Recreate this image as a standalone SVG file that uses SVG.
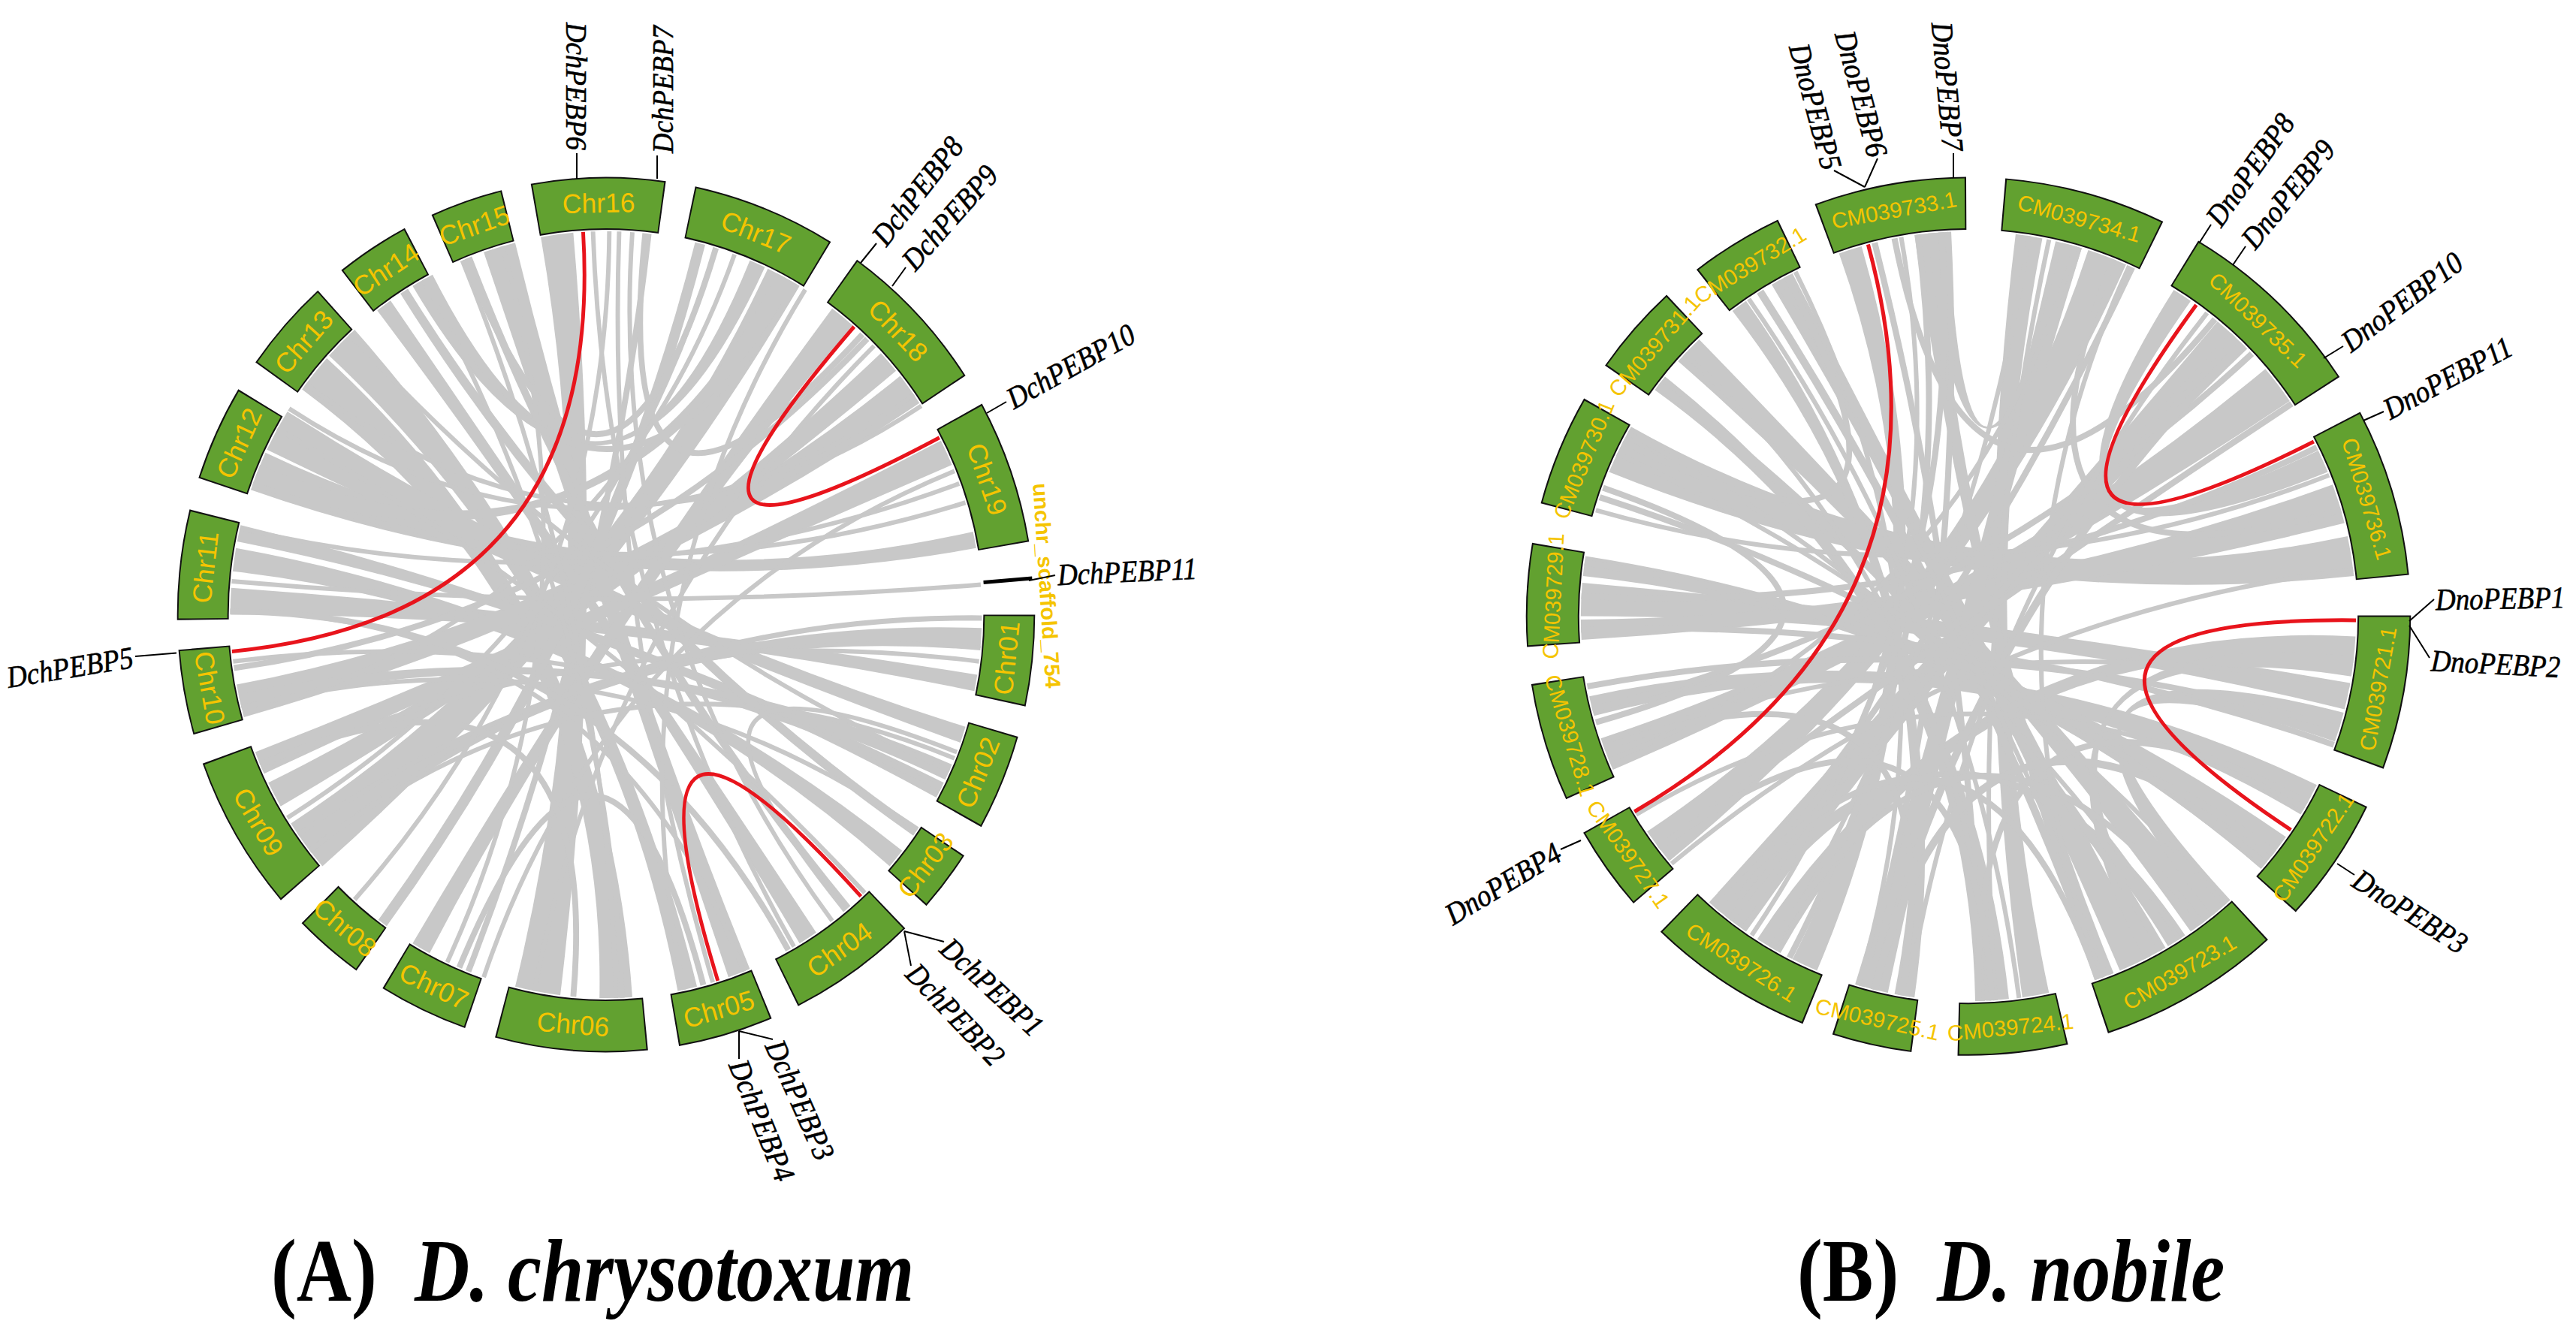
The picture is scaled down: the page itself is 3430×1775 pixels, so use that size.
<svg xmlns="http://www.w3.org/2000/svg" width="3430" height="1775" viewBox="0 0 3430 1775">
<style>
.ob{fill:none;stroke:#111;stroke-width:70}
.sg{fill:none;stroke:#62a130;stroke-width:66}
.rb{fill:#c8c8c8}
.ln{fill:none;stroke:#c8c8c8}
.w6{stroke-width:6}.w7{stroke-width:7}.w8{stroke-width:8}.w10{stroke-width:10}.w12{stroke-width:12}.w14{stroke-width:14}
.rd{fill:none;stroke:#e8141c;stroke-width:5}
.lb{font-family:"Liberation Sans",Arial,sans-serif;fill:#f5c400;text-anchor:middle;dominant-baseline:central}
.la{font-size:36px}.lr{font-size:29px}
.gl{font-family:"Liberation Serif","Times New Roman",serif;font-style:italic;font-size:41px;fill:#000;stroke:#000;stroke-width:0.6;dominant-baseline:central}
.gk{fill:none;stroke:#000;stroke-width:2}
.tt{font-family:"Liberation Serif","Times New Roman",serif;font-weight:bold;font-size:118px;fill:#000}
</style>
<rect width="3430" height="1775" fill="#fff"/>

<g id="circos-a" transform="translate(807,818.5) scale(0.985,1.005)">
<g id="links-a">
<path class="rb" d="M-88.2,-500.3A508,508 0 0 1 -44.3,-506.1Q0,0 -61.9,504.2A508,508 0 0 1 -122.9,492.9Q0,0 -88.2,-500.3Z"/>
<path class="rb" d="M35.5,506.8A508,508 0 0 1 -8.9,507.9Q0,0 -411,-298.6A508,508 0 0 1 -377.5,-339.9Q0,0 35.5,506.8Z"/>
<path class="rb" d="M122.9,492.9A508,508 0 0 1 96.9,498.7Q0,0 -374.5,-343.2A508,508 0 0 1 -339.9,-377.5Q0,0 122.9,492.9Z"/>
<path class="rb" d="M496,-110A508,508 0 0 1 500.3,-88.2Q0,0 -480.3,-165.4A508,508 0 0 1 -460.4,-214.7Q0,0 496,-110Z"/>
<path class="rb" d="M485.8,148.5A508,508 0 0 1 478.9,169.6Q0,0 -458.5,-218.7A508,508 0 0 1 -430.8,-269.2Q0,0 485.8,148.5Z"/>
<path class="rb" d="M501.8,79.5A508,508 0 0 1 497.8,101.3Q0,0 -508,0A508,508 0 0 1 -506.8,-35.5Q0,0 501.8,79.5Z"/>
<path class="rb" d="M400.3,312.8A508,508 0 0 1 383.4,333.3Q0,0 -504.7,-57.5A508,508 0 0 1 -500.3,-88.2Q0,0 400.3,312.8Z"/>
<path class="rb" d="M397.6,-316.3A508,508 0 0 1 423.6,-280.4Q0,0 -489.5,135.8A508,508 0 0 1 -499.5,92.6Q0,0 397.6,-316.3Z"/>
<path class="rb" d="M218.7,-458.5A508,508 0 0 1 261.6,-435.5Q0,0 -383.4,333.3A508,508 0 0 1 -426.1,276.7Q0,0 218.7,-458.5Z"/>
<path class="rb" d="M371.5,-346.5A508,508 0 0 1 392,-323.1Q0,0 -439.9,254A508,508 0 0 1 -456.6,222.7Q0,0 371.5,-346.5Z"/>
<path class="rb" d="M284.1,421.1A508,508 0 0 1 261.6,435.5Q0,0 -309.3,-403A508,508 0 0 1 -291.4,-416.2Q0,0 284.1,421.1Z"/>
<path class="rb" d="M194.4,469.3A508,508 0 0 1 165.4,480.3Q0,0 -165.4,-480.3A508,508 0 0 1 -122.9,-492.9Q0,0 194.4,469.3Z"/>
<path class="rb" d="M305.7,-405.7A508,508 0 0 1 333.3,-383.4Q0,0 -238.5,448.5A508,508 0 0 1 -261.6,435.5Q0,0 305.7,-405.7Z"/>
<path class="rb" d="M456.6,222.7A508,508 0 0 1 446.4,242.4Q0,0 -498.7,-96.9A508,508 0 0 1 -494,-118.6Q0,0 456.6,222.7Z"/>
<path class="rb" d="M452.6,-230.6A508,508 0 0 1 467.6,-198.5Q0,0 -462.3,210.7A508,508 0 0 1 -474.3,182.1Q0,0 452.6,-230.6Z"/>
<path class="rb" d="M194.4,-469.3A508,508 0 0 1 214.7,-460.4Q0,0 -261.6,-435.5A508,508 0 0 1 -234.6,-450.6Q0,0 194.4,-469.3Z"/>
<path class="rb" d="M507.7,17.7A508,508 0 0 1 506.1,44.3Q0,0 -400.3,312.8A508,508 0 0 1 -416.2,291.4Q0,0 507.7,17.7Z"/>
<path class="rb" d="M230.6,-452.6A508,508 0 0 1 254,-439.9Q0,0 -477.4,-173.7A508,508 0 0 1 -467.6,-198.5Q0,0 230.6,-452.6Z"/>
<path class="rb" d="M467.6,198.5A508,508 0 0 1 458.5,218.7Q0,0 -492.9,122.9A508,508 0 0 1 -496.9,105.6Q0,0 467.6,198.5Z"/>
<path class="ln w6" d="M506.5,-39.9Q0,0 -506.1,-44.3"/>
<path class="ln w7" d="M508,4.4Q0,0 -400.3,312.8"/>
<path class="ln w8" d="M57.5,-504.7Q0,0 -186.2,472.7"/>
<path class="ln w6" d="M-17.7,-507.7Q0,0 254,439.9"/>
<path class="ln w10" d="M-186.2,-472.7Q0,0 326.5,389.1"/>
<path class="ln w12" d="M-273,-428.5Q0,0 418.7,287.8"/>
<path class="ln w14" d="M127.2,-491.8Q0,0 -302.2,408.4"/>
<path class="ln w8" d="M352.9,-365.4Q0,0 -503.1,70.7"/>
<path class="ln w6" d="M148.5,-485.8Q0,0 -430.8,269.2"/>
<path class="ln w6" d="M173.7,-477.4Q0,0 -490.7,131.5"/>
<path class="ln w6" d="M17.7,-507.7Q0,0 144.3,487.1"/>
<path class="ln w6" d="M35.5,-506.8Q0,0 305.7,405.7"/>
<path class="ln w6" d="M-428.5,-273Q0,0 416.2,-291.4"/>
<path class="ln w6" d="M477.4,-173.7Q0,0 -495,-114.3"/>
<path class="ln w6" d="M485.8,-148.5Q0,0 -477.4,-173.7"/>
<path class="ln w6" d="M426.1,-276.7Q0,0 -405.7,-305.7"/>
<path class="ln w6" d="M471,190.3Q0,0 -400.3,312.8"/>
<path class="ln w6" d="M464.1,206.6Q0,0 -346.5,-371.5"/>
<path class="ln w6" d="M506.1,44.3Q0,0 -416.2,291.4"/>
<path class="ln w6" d="M349.7,368.5Q0,0 -444.3,-246.3"/>
<path class="ln w6" d="M186.2,472.7Q0,0 -508,-4.4"/>
<path class="ln w6" d="M22.2,507.5Q0,0 -246.3,-444.3"/>
<path class="ln w6" d="M-214.7,460.4Q0,0 -140,-488.3"/>
<path class="ln w6" d="M-339.9,377.5Q0,0 4.4,-508"/>
<path class="ln w6" d="M-504.2,61.9Q0,0 452.6,230.6"/>
<path class="ln w6" d="M421.1,284.1Q0,0 -492.9,122.9"/>
<path class="ln w8" d="M246.3,444.3Q0,0 -508,-4.4"/>
<path class="ln w6" d="M105.6,496.9Q0,0 269.2,-430.8"/>
<path class="ln w6" d="M-96.9,498.7Q0,0 362.3,-356.1"/>
<path class="ln w6" d="M-165.4,480.3Q0,0 471,-190.3"/>
<path class="ln w6" d="M-465.9,202.6Q0,0 504.2,61.9"/>
<path class="ln w6" d="M13.3,507.8Q0,0 -194.4,-469.3"/>
<path class="ln w8" d="M53.1,-505.2Q0,0 346.5,-371.5"/>
<path class="ln w8" d="M-190.3,-471Q0,0 148.5,-485.8"/>
<path class="ln w8" d="M-198.5,467.6Q0,0 131.5,490.7"/>
<path class="ln w8" d="M-467.6,198.5Q0,0 -44.3,506.1"/>
<path class="ln w6" d="M323.1,392Q0,0 474.3,182.1"/>
<path class="ln w8" d="M-254,-439.9Q0,0 257.8,-437.7"/>
<path class="rd" d="M-31,-507.1Q0,0 -505.7,48.7"/>
<path class="rd" d="M335.3,-381.6Q0,0 450.6,-234.6"/>
<path class="rd" d="M344.5,373.3Q0,0 151.1,485"/>
</g>
<g id="a-chr16" transform="rotate(350.1)"><circle class="ob" r="545" transform="rotate(-90.21)" stroke-dasharray="172.4 4000"/><circle class="sg" r="545" transform="rotate(-90)" stroke-dasharray="168.4 4000"/><text class="lb la" transform="rotate(8.85) translate(0,-545)">Chr16</text></g>
<g id="a-chr17" transform="rotate(12.2)"><circle class="ob" r="545" transform="rotate(-90.21)" stroke-dasharray="186.6 4000"/><circle class="sg" r="545" transform="rotate(-90)" stroke-dasharray="182.6 4000"/><text class="lb la" transform="rotate(9.6) translate(0,-545)">Chr17</text></g>
<g id="a-chr18" transform="rotate(36)"><circle class="ob" r="545" transform="rotate(-90.21)" stroke-dasharray="200.9 4000"/><circle class="sg" r="545" transform="rotate(-90)" stroke-dasharray="196.9 4000"/><text class="lb la" transform="rotate(10.35) translate(0,-545)">Chr18</text></g>
<g id="a-chr19" transform="rotate(61.4)"><circle class="ob" r="545" transform="rotate(-90.21)" stroke-dasharray="182.8 4000"/><circle class="sg" r="545" transform="rotate(-90)" stroke-dasharray="178.8 4000"/><text class="lb la" transform="rotate(9.4) translate(0,-545)">Chr19</text></g>
<g id="a-unchr" transform="rotate(85.2)"><line x1="0" y1="-512" x2="0" y2="-578" stroke="#000" stroke-width="5"/><text class="lb" font-size="29" font-weight="bold" transform="rotate(1.1) translate(0,-597)">unchr_scaffold_754</text></g>
<g id="a-chr01" transform="rotate(90.2)"><circle class="ob" r="545" transform="rotate(-90.21)" stroke-dasharray="115.3 4000"/><circle class="sg" r="545" transform="rotate(-90)" stroke-dasharray="111.3 4000"/><text class="lb la" transform="rotate(5.85) translate(0,-545) rotate(180)">Chr01</text></g>
<g id="a-chr02" transform="rotate(106.4)"><circle class="ob" r="545" transform="rotate(-90.21)" stroke-dasharray="121.9 4000"/><circle class="sg" r="545" transform="rotate(-90)" stroke-dasharray="117.9 4000"/><text class="lb la" transform="rotate(6.2) translate(0,-545) rotate(180)">Chr02</text></g>
<g id="a-chr03" transform="rotate(123.6)"><circle class="ob" r="545" transform="rotate(-90.21)" stroke-dasharray="79.1 4000"/><circle class="sg" r="545" transform="rotate(-90)" stroke-dasharray="75.1 4000"/><text class="lb la" transform="rotate(3.95) translate(0,-545) rotate(180)">Chr03</text></g>
<g id="a-chr04" transform="rotate(136)"><circle class="ob" r="545" transform="rotate(-90.21)" stroke-dasharray="167.6 4000"/><circle class="sg" r="545" transform="rotate(-90)" stroke-dasharray="163.6 4000"/><text class="lb la" transform="rotate(8.6) translate(0,-545) rotate(180)">Chr04</text></g>
<g id="a-chr05" transform="rotate(157.5)"><circle class="ob" r="545" transform="rotate(-90.21)" stroke-dasharray="122.9 4000"/><circle class="sg" r="545" transform="rotate(-90)" stroke-dasharray="118.9 4000"/><text class="lb la" transform="rotate(6.25) translate(0,-545) rotate(180)">Chr05</text></g>
<g id="a-chr06" transform="rotate(174.6)"><circle class="ob" r="545" transform="rotate(-90.21)" stroke-dasharray="196.1 4000"/><circle class="sg" r="545" transform="rotate(-90)" stroke-dasharray="192.1 4000"/><text class="lb la" transform="rotate(10.1) translate(0,-545) rotate(180)">Chr06</text></g>
<g id="a-chr07" transform="rotate(199.4)"><circle class="ob" r="545" transform="rotate(-90.21)" stroke-dasharray="116.2 4000"/><circle class="sg" r="545" transform="rotate(-90)" stroke-dasharray="112.2 4000"/><text class="lb la" transform="rotate(5.9) translate(0,-545) rotate(180)">Chr07</text></g>
<g id="a-chr08" transform="rotate(215.8)"><circle class="ob" r="545" transform="rotate(-90.21)" stroke-dasharray="91.5 4000"/><circle class="sg" r="545" transform="rotate(-90)" stroke-dasharray="87.5 4000"/><text class="lb la" transform="rotate(4.6) translate(0,-545) rotate(180)">Chr08</text></g>
<g id="a-chr09" transform="rotate(229.5)"><circle class="ob" r="545" transform="rotate(-90.21)" stroke-dasharray="198 4000"/><circle class="sg" r="545" transform="rotate(-90)" stroke-dasharray="194 4000"/><text class="lb la" transform="rotate(10.2) translate(0,-545) rotate(180)">Chr09</text></g>
<g id="a-chr10" transform="rotate(254.3)"><circle class="ob" r="545" transform="rotate(-90.21)" stroke-dasharray="107.7 4000"/><circle class="sg" r="545" transform="rotate(-90)" stroke-dasharray="103.7 4000"/><text class="lb la" transform="rotate(5.45) translate(0,-545) rotate(180)">Chr10</text></g>
<g id="a-chr11" transform="rotate(269.5)"><circle class="ob" r="545" transform="rotate(-90.21)" stroke-dasharray="139.1 4000"/><circle class="sg" r="545" transform="rotate(-90)" stroke-dasharray="135.1 4000"/><text class="lb la" transform="rotate(7.1) translate(0,-545)">Chr11</text></g>
<g id="a-chr12" transform="rotate(288.4)"><circle class="ob" r="545" transform="rotate(-90.21)" stroke-dasharray="121.9 4000"/><circle class="sg" r="545" transform="rotate(-90)" stroke-dasharray="117.9 4000"/><text class="lb la" transform="rotate(6.2) translate(0,-545)">Chr12</text></g>
<g id="a-chr13" transform="rotate(305.4)"><circle class="ob" r="545" transform="rotate(-90.21)" stroke-dasharray="120 4000"/><circle class="sg" r="545" transform="rotate(-90)" stroke-dasharray="116 4000"/><text class="lb la" transform="rotate(6.1) translate(0,-545)">Chr13</text></g>
<g id="a-chr14" transform="rotate(322.1)"><circle class="ob" r="545" transform="rotate(-90.21)" stroke-dasharray="96.3 4000"/><circle class="sg" r="545" transform="rotate(-90)" stroke-dasharray="92.3 4000"/><text class="lb la" transform="rotate(4.85) translate(0,-545)">Chr14</text></g>
<g id="a-chr15" transform="rotate(336.2)"><circle class="ob" r="545" transform="rotate(-90.21)" stroke-dasharray="94.4 4000"/><circle class="sg" r="545" transform="rotate(-90)" stroke-dasharray="90.4 4000"/><text class="lb la" transform="rotate(4.75) translate(0,-545)">Chr15</text></g>
</g>

<g id="circos-b" transform="translate(2621,820.6) scale(1.016,1.009)">
<g id="links-b">
<path class="rb" d="M-198.5,467.6A508,508 0 0 1 -230.6,452.6Q0,0 -169.6,-478.9A508,508 0 0 1 -140,-488.3Q0,0 -198.5,467.6Z"/>
<path class="rb" d="M238.5,448.5A508,508 0 0 1 198.5,467.6Q0,0 -257.8,-437.7A508,508 0 0 1 -230.6,-452.6Q0,0 238.5,448.5Z"/>
<path class="rb" d="M326.5,389.1A508,508 0 0 1 291.4,416.2Q0,0 -380.5,-336.6A508,508 0 0 1 -352.9,-365.4Q0,0 326.5,389.1Z"/>
<path class="rb" d="M496.9,-105.6A508,508 0 0 1 505.2,-53.1Q0,0 -471,-190.3A508,508 0 0 1 -442.1,-250.2Q0,0 496.9,-105.6Z"/>
<path class="rb" d="M500.3,88.2A508,508 0 0 1 492.9,122.9Q0,0 -508,0A508,508 0 0 1 -506.1,-44.3Q0,0 500.3,88.2Z"/>
<path class="rb" d="M389.1,-326.5A508,508 0 0 1 421.1,-284.1Q0,0 -465.9,202.6A508,508 0 0 1 -481.8,161.2Q0,0 389.1,-326.5Z"/>
<path class="rb" d="M157,-483.2A508,508 0 0 1 206.6,-464.1Q0,0 -392,323.1A508,508 0 0 1 -421.1,284.1Q0,0 157,-483.2Z"/>
<path class="rb" d="M326.5,-389.1A508,508 0 0 1 365.4,-352.9Q0,0 -291.4,416.2A508,508 0 0 1 -339.9,377.5Q0,0 326.5,-389.1Z"/>
<path class="rb" d="M61.9,-504.2A508,508 0 0 1 96.9,-498.7Q0,0 105.6,496.9A508,508 0 0 1 70.7,503.1Q0,0 61.9,-504.2Z"/>
<path class="rb" d="M190.3,471A508,508 0 0 1 165.4,480.3Q0,0 -70.7,-503.1A508,508 0 0 1 -44.3,-506.1Q0,0 190.3,471Z"/>
<path class="rb" d="M456.6,222.7A508,508 0 0 1 435.5,261.6Q0,0 -490.7,131.5A508,508 0 0 1 -496.9,105.6Q0,0 456.6,222.7Z"/>
<path class="rb" d="M416.2,291.4A508,508 0 0 1 383.4,333.3Q0,0 -505.2,-53.1A508,508 0 0 1 -501.8,-79.5Q0,0 416.2,291.4Z"/>
<path class="rb" d="M491.8,127.2A508,508 0 0 1 480.3,165.4Q0,0 343.2,374.5A508,508 0 0 1 319.7,394.8Q0,0 491.8,127.2Z"/>
<path class="rb" d="M269.2,-430.8A508,508 0 0 1 291.4,-416.2Q0,0 458.5,-218.7A508,508 0 0 1 471,-190.3Q0,0 269.2,-430.8Z"/>
<path class="rb" d="M-70.7,503.1A508,508 0 0 1 -96.9,498.7Q0,0 -309.3,-403A508,508 0 0 1 -291.4,-416.2Q0,0 -70.7,503.1Z"/>
<path class="rb" d="M53.1,505.2A508,508 0 0 1 8.9,507.9Q0,0 -411,-298.6A508,508 0 0 1 -397.6,-316.3Q0,0 53.1,505.2Z"/>
<path class="rb" d="M507.3,26.6A508,508 0 0 1 504.2,61.9Q0,0 -246.3,444.3A508,508 0 0 1 -276.7,426.1Q0,0 507.3,26.6Z"/>
<path class="rb" d="M477.4,-173.7A508,508 0 0 1 492.9,-122.9Q0,0 -507.1,31A508,508 0 0 1 -508,4.4Q0,0 477.4,-173.7Z"/>
<path class="rb" d="M114.3,-495A508,508 0 0 1 148.5,-485.8Q0,0 -105.6,496.9A508,508 0 0 1 -148.5,485.8Q0,0 114.3,-495Z"/>
<path class="rb" d="M-53.1,-505.2A508,508 0 0 1 -26.6,-507.3Q0,0 122.9,-492.9A508,508 0 0 1 148.5,-485.8Q0,0 -53.1,-505.2Z"/>
<path class="rb" d="M284.1,421.1A508,508 0 0 1 261.6,435.5Q0,0 -298.6,411A508,508 0 0 1 -319.7,394.8Q0,0 284.1,421.1Z"/>
<path class="rb" d="M505.2,53.1A508,508 0 0 1 501.8,79.5Q0,0 254,439.9A508,508 0 0 1 230.6,452.6Q0,0 505.2,53.1Z"/>
<path class="ln w8" d="M-66.3,-503.7Q0,0 -234.5,450.6"/>
<path class="ln w8" d="M-35.5,-506.8Q0,0 -295,413.6"/>
<path class="ln w8" d="M-122.9,-492.9Q0,0 17.7,507.7"/>
<path class="ln w10" d="M-273,-428.5Q0,0 173.7,477.4"/>
<path class="ln w10" d="M-405.7,-305.7Q0,0 254,439.9"/>
<path class="ln w8" d="M-503.1,-70.7Q0,0 386.3,329.9"/>
<path class="ln w8" d="M-507.3,-26.6Q0,0 456.6,-222.7"/>
<path class="ln w8" d="M-499.5,92.6Q0,0 485.8,148.5"/>
<path class="ln w8" d="M-492.9,122.9Q0,0 371.5,-346.5"/>
<path class="ln w8" d="M-326.5,389.1Q0,0 214.7,-460.4"/>
<path class="ln w10" d="M-122.9,492.9Q0,0 359.2,-359.2"/>
<path class="ln w8" d="M-140,488.3Q0,0 -26.6,-507.3"/>
<path class="ln w6" d="M35.5,506.8Q0,0 105.6,-496.9"/>
<path class="ln w6" d="M276.7,426.1Q0,0 -446.4,-242.4"/>
<path class="ln w8" d="M389.1,326.5Q0,0 -483.2,-157"/>
<path class="ln w8" d="M478.9,169.6Q0,0 -507.7,17.7"/>
<path class="ln w6" d="M504.2,-61.9Q0,0 -389.1,326.5"/>
<path class="ln w8" d="M423.6,-280.4Q0,0 -405.7,305.7"/>
<path class="ln w8" d="M346.5,-371.5Q0,0 -312.8,400.3"/>
<path class="ln w6" d="M312.8,-400.3Q0,0 -79.5,501.8"/>
<path class="ln w6" d="M210.7,-462.3Q0,0 173.7,477.4"/>
<path class="ln w6" d="M79.5,-501.8Q0,0 -254,439.9"/>
<path class="ln w6" d="M140,-488.3Q0,0 -471,190.3"/>
<path class="ln w6" d="M-88.2,-500.3Q0,0 -284.1,421.1"/>
<path class="ln w6" d="M-226.7,-454.6Q0,0 -144.3,487.1"/>
<path class="ln w6" d="M-371.5,-346.5Q0,0 26.6,507.3"/>
<path class="ln w6" d="M-460.4,-214.7Q0,0 336.6,380.5"/>
<path class="ln w6" d="M499.5,92.6Q0,0 -478.9,169.6"/>
<path class="ln w6" d="M472.7,-186.2Q0,0 -488.3,-140"/>
<path class="ln w6" d="M439.9,254Q0,0 -435.5,261.6"/>
<path class="ln w6" d="M186.2,472.7Q0,0 -250.2,-442.1"/>
<path class="ln w6" d="M66.3,503.7Q0,0 -287.8,-418.7"/>
<path class="ln w8" d="M-96.9,-498.7Q0,0 323.1,-392"/>
<path class="ln w8" d="M190.3,-471Q0,0 488.3,-140"/>
<path class="ln w10" d="M-122.9,492.9Q0,0 400.3,312.8"/>
<path class="ln w8" d="M13.3,507.8Q0,0 444.3,246.3"/>
<path class="ln w8" d="M-405.7,305.7Q0,0 31,507.1"/>
<path class="ln w8" d="M-477.4,173.7Q0,0 -88.2,500.3"/>
<path class="ln w8" d="M-478.9,-169.6Q0,0 -488.3,140"/>
<path class="ln w8" d="M-238.5,-448.5Q0,0 -452.6,-230.6"/>
<path class="ln w8" d="M-257.8,437.7Q0,0 305.7,405.7"/>
<path class="ln w8" d="M-329.9,386.3Q0,0 169.6,478.9"/>
<path class="rd" d="M-131.5,-490.7Q0,0 -437.7,257.8"/>
<path class="rd" d="M298.6,-411Q0,0 452.6,-230.6"/>
<path class="rd" d="M508,5.3Q0,0 422.6,281.9"/>
</g>
<g id="b-733" transform="rotate(339.9)"><circle class="ob" r="545" transform="rotate(-90.21)" stroke-dasharray="190.4 4000"/><circle class="sg" r="545" transform="rotate(-90)" stroke-dasharray="186.4 4000"/><text class="lb lr" transform="rotate(9.8) translate(0,-545)">CM039733.1</text></g>
<g id="b-734" transform="rotate(5)"><circle class="ob" r="545" transform="rotate(-90.21)" stroke-dasharray="202.8 4000"/><circle class="sg" r="545" transform="rotate(-90)" stroke-dasharray="198.8 4000"/><text class="lb lr" transform="rotate(10.45) translate(0,-545)">CM039734.1</text></g>
<g id="b-735" transform="rotate(31.5)"><circle class="ob" r="545" transform="rotate(-90.21)" stroke-dasharray="244.7 4000"/><circle class="sg" r="545" transform="rotate(-90)" stroke-dasharray="240.7 4000"/><text class="lb lr" transform="rotate(12.65) translate(0,-545)">CM039735.1</text></g>
<g id="b-736" transform="rotate(62.5)"><circle class="ob" r="545" transform="rotate(-90.21)" stroke-dasharray="212.3 4000"/><circle class="sg" r="545" transform="rotate(-90)" stroke-dasharray="208.3 4000"/><text class="lb lr" transform="rotate(10.95) translate(0,-545)">CM039736.1</text></g>
<g id="b-721" transform="rotate(90.1)"><circle class="ob" r="545" transform="rotate(-90.21)" stroke-dasharray="194.2 4000"/><circle class="sg" r="545" transform="rotate(-90)" stroke-dasharray="190.2 4000"/><text class="lb lr" transform="rotate(10) translate(0,-545) rotate(180)">CM039721.1</text></g>
<g id="b-722" transform="rotate(115.9)"><circle class="ob" r="545" transform="rotate(-90.21)" stroke-dasharray="158.1 4000"/><circle class="sg" r="545" transform="rotate(-90)" stroke-dasharray="154.1 4000"/><text class="lb lr" transform="rotate(8.1) translate(0,-545) rotate(180)">CM039722.1</text></g>
<g id="b-723" transform="rotate(137.6)"><circle class="ob" r="545" transform="rotate(-90.21)" stroke-dasharray="230.4 4000"/><circle class="sg" r="545" transform="rotate(-90)" stroke-dasharray="226.4 4000"/><text class="lb lr" transform="rotate(11.9) translate(0,-545) rotate(180)">CM039723.1</text></g>
<g id="b-724" transform="rotate(167.2)"><circle class="ob" r="545" transform="rotate(-90.21)" stroke-dasharray="137.2 4000"/><circle class="sg" r="545" transform="rotate(-90)" stroke-dasharray="133.2 4000"/><text class="lb lr" transform="rotate(7) translate(0,-545) rotate(180)">CM039724.1</text></g>
<g id="b-725" transform="rotate(187.6)"><circle class="ob" r="545" transform="rotate(-90.21)" stroke-dasharray="100.1 4000"/><circle class="sg" r="545" transform="rotate(-90)" stroke-dasharray="96.1 4000"/><text class="lb lr" transform="rotate(5.05) translate(0,-545) rotate(180)">CM039725.1</text></g>
<g id="b-726" transform="rotate(202.2)"><circle class="ob" r="545" transform="rotate(-90.21)" stroke-dasharray="210.4 4000"/><circle class="sg" r="545" transform="rotate(-90)" stroke-dasharray="206.4 4000"/><text class="lb lr" transform="rotate(10.85) translate(0,-545) rotate(180)">CM039726.1</text></g>
<g id="b-727" transform="rotate(229.4)"><circle class="ob" r="545" transform="rotate(-90.21)" stroke-dasharray="107.7 4000"/><circle class="sg" r="545" transform="rotate(-90)" stroke-dasharray="103.7 4000"/><text class="lb lr" transform="rotate(5.45) translate(0,-545) rotate(180)">CM039727.1</text></g>
<g id="b-728" transform="rotate(245.6)"><circle class="ob" r="545" transform="rotate(-90.21)" stroke-dasharray="149.5 4000"/><circle class="sg" r="545" transform="rotate(-90)" stroke-dasharray="145.5 4000"/><text class="lb lr" transform="rotate(7.65) translate(0,-545) rotate(180)">CM039728.1</text></g>
<g id="b-729" transform="rotate(266.2)"><circle class="ob" r="545" transform="rotate(-90.21)" stroke-dasharray="129.6 4000"/><circle class="sg" r="545" transform="rotate(-90)" stroke-dasharray="125.6 4000"/><text class="lb lr" transform="rotate(6.6) translate(0,-545)">CM039729.1</text></g>
<g id="b-730" transform="rotate(285.1)"><circle class="ob" r="545" transform="rotate(-90.21)" stroke-dasharray="141 4000"/><circle class="sg" r="545" transform="rotate(-90)" stroke-dasharray="137 4000"/><text class="lb lr" transform="rotate(7.2) translate(0,-545)">CM039730.1</text></g>
<g id="b-731" transform="rotate(305)"><circle class="ob" r="545" transform="rotate(-90.21)" stroke-dasharray="116.2 4000"/><circle class="sg" r="545" transform="rotate(-90)" stroke-dasharray="112.2 4000"/><text class="lb lr" transform="rotate(5.9) translate(0,-545)">CM039731.1</text></g>
<g id="b-732" transform="rotate(322.3)"><circle class="ob" r="545" transform="rotate(-90.21)" stroke-dasharray="118.1 4000"/><circle class="sg" r="545" transform="rotate(-90)" stroke-dasharray="114.1 4000"/><text class="lb lr" transform="rotate(6) translate(0,-545)">CM039732.1</text></g>
</g>

<g id="gene-labels-a">
<path class="gk" d="M768,238V204M875,238V207M1146,350L1167,324M1188,381L1206,356M1314,550L1340,535M1370,773L1405,766M235,869.5L180,874M1204,1240L1257,1254M1204,1240L1213,1286M984,1373L1029,1384M984,1373L984,1410"/>
<text class="gl" text-anchor="end" transform="translate(768,200) rotate(90) scale(0.9,1)">DchPEBP6</text>
<text class="gl" transform="translate(882,204) rotate(-90) scale(0.9,1)">DchPEBP7</text>
<text class="gl" transform="translate(1169,321) rotate(-52) scale(0.9,1)">DchPEBP8</text>
<text class="gl" transform="translate(1208,353) rotate(-48.5) scale(0.9,1)">DchPEBP9</text>
<text class="gl" transform="translate(1343,533) rotate(-29) scale(0.9,1)">DchPEBP10</text>
<text class="gl" transform="translate(1408,765) rotate(-2.6) scale(0.9,1)">DchPEBP11</text>
<text class="gl" text-anchor="end" transform="translate(177,874.5) rotate(-9.3) scale(0.9,1)">DchPEBP5</text>
<text class="gl" transform="translate(1259,1256) rotate(43) scale(0.9,1)">DchPEBP1</text>
<text class="gl" transform="translate(1214,1289) rotate(46.5) scale(0.9,1)">DchPEBP2</text>
<text class="gl" transform="translate(1031,1387) rotate(66) scale(0.9,1)">DchPEBP3</text>
<text class="gl" transform="translate(983,1413) rotate(68) scale(0.9,1)">DchPEBP4</text>
</g>
<g id="gene-labels-b">
<path class="gk" d="M2483,249L2442,227M2483,249L2500,211M2601,237V204M2928,324L2944,299M2973,353L2990,328M3094,477L3120,461M3147,560L3174,548M3208,827L3241,798M3208,833L3235,876M3112,1150L3135,1165M2105,1119L2078,1131"/>
<text class="gl" text-anchor="end" transform="translate(2440,225) rotate(75) scale(0.9,1)">DnoPEBP5</text>
<text class="gl" text-anchor="end" transform="translate(2501,208) rotate(75) scale(0.9,1)">DnoPEBP6</text>
<text class="gl" text-anchor="end" transform="translate(2601,201) rotate(85) scale(0.9,1)">DnoPEBP7</text>
<text class="gl" transform="translate(2946,296) rotate(-54.6) scale(0.9,1)">DnoPEBP8</text>
<text class="gl" transform="translate(2992,325) rotate(-51) scale(0.9,1)">DnoPEBP9</text>
<text class="gl" transform="translate(3122,459) rotate(-37) scale(0.9,1)">DnoPEBP10</text>
<text class="gl" transform="translate(3176,547) rotate(-28) scale(0.9,1)">DnoPEBP11</text>
<text class="gl" transform="translate(3243,798) rotate(-1) scale(0.9,1)">DnoPEBP1</text>
<text class="gl" transform="translate(3237,879) rotate(3) scale(0.9,1)">DnoPEBP2</text>
<text class="gl" transform="translate(3137,1167) rotate(32.6) scale(0.9,1)">DnoPEBP3</text>
<text class="gl" text-anchor="end" transform="translate(2075,1132) rotate(-31) scale(0.9,1)">DnoPEBP4</text>
</g>

<g id="titles">
<text class="tt" transform="translate(361,1732) scale(0.86,1)">(A)</text>
<text class="tt" font-style="italic" transform="translate(552,1732) scale(0.86,1)">D. chrysotoxum</text>
<text class="tt" transform="translate(2393,1732) scale(0.86,1)">(B)</text>
<text class="tt" font-style="italic" transform="translate(2579,1732) scale(0.86,1)">D. nobile</text>
</g>
</svg>
